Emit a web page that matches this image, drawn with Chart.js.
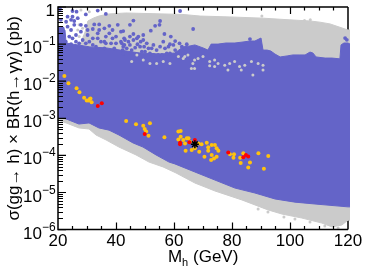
<!DOCTYPE html>
<html>
<head>
<meta charset="utf-8">
<script src="https://cdn.jsdelivr.net/npm/chart.js@4"></script>
<style>
html, body { margin: 0; padding: 0; background: #fff; }
canvas { display: block; }
</style>
</head>
<body>
<canvas id="higgsChart" width="366" height="274"></canvas>
<script>
// envelope of the scanned points, mass in GeV and sigma x BR in pb
const grayTopMass = [20, 27.6, 29.3, 30.3, 32.4, 34.1, 37.6, 43.4, 63.1, 69, 79.3, 90.7, 100, 106.9, 110.3, 113.8, 119, 120, 120.7];
const grayTopVal = [0.095, 0.095, 0.21, 0.42, 0.51, 0.57, 0.65, 0.69, 0.63, 0.57, 0.54, 0.5, 0.45, 0.42, 0.39, 0.35, 0.255, 0.24, 0.24];
const grayLowMass = [20, 22.8, 27.2, 30.7, 33.1, 36.6, 41, 46.9, 51.4, 56.2, 60.7, 67.2, 74.1, 83.4, 92.4, 97.2, 104.1, 111, 114.5, 117.9, 120, 120.7];
const grayLowVal = [9.0e-4, 7.5e-4, 5.5e-4, 5.15e-4, 3.55e-4, 2.6e-4, 1.68e-4, 1.03e-4, 6.6e-5, 4.9e-5, 3.36e-5, 1.8e-5, 1.1e-5, 6.3e-6, 3.4e-6, 2.63e-6, 2.05e-6, 1.5e-6, 1.18e-6, 1.33e-6, 1.8e-6, 1.8e-6];
const blueTopMass = [20, 21.4, 22.4, 22.8, 31, 36.6, 41.4, 48.3, 55.2, 60.3, 63.1, 65.5, 67.2, 70, 71.7, 72.8, 75.2, 77.9, 81, 83.8, 86.2, 87.9, 90, 90.7, 92.1, 93.4, 94.8, 96.6, 99, 101, 103.4, 105.2, 106.9, 107.9, 109, 112.1, 114.5, 117.2, 117.6, 118.6, 120, 120.7];
const blueTopVal = [0.289, 0.272, 0.24, 0.107, 0.084, 0.079, 0.069, 0.0575, 0.054, 0.0575, 0.084, 0.089, 0.095, 0.079, 0.069, 0.1, 0.1, 0.107, 0.107, 0.114, 0.121, 0.121, 0.146, 0.069, 0.069, 0.065, 0.054, 0.045, 0.048, 0.051, 0.051, 0.051, 0.061, 0.0575, 0.045, 0.042, 0.042, 0.04, 0.095, 0.107, 0.107, 0.1];
const blueLowMass = [20, 22.8, 27.2, 30.7, 34.1, 37.6, 41, 45.9, 49.3, 53.8, 58.3, 60.3, 67.2, 74.1, 81, 87.9, 94.8, 101.7, 108.6, 120, 120.7];
const blueLowVal = [1.08e-3, 9.6e-4, 7.0e-4, 7.5e-4, 5.5e-4, 4.8e-4, 3.55e-4, 2.16e-4, 1.68e-4, 1.03e-4, 6.6e-5, 5.9e-5, 3.57e-5, 2.17e-5, 1.32e-5, 9.7e-6, 6.7e-6, 5.5e-6, 4.9e-6, 4.1e-6, 4.1e-6];

// stray points
const blueDotMass = [20.7, 25, 26.4, 33.7, 36.5, 25, 23.3, 22.8, 24.5, 25.6, 26.8, 29.6, 21, 23.3, 25.6, 29.6, 32.5, 34.2, 37.7, 40.6, 32, 36, 38.8, 24.5, 27.9, 26.2, 30.2, 33.7, 36.5, 40, 30.8, 28.5, 34.8, 38.3, 41.7, 23.9, 22.7, 26.2, 33.1, 36, 39.4, 42.3, 46, 44.8, 42.5, 55.2, 53.5, 55, 52, 56.7, 58.9, 46, 49.4, 47.7, 42.8, 44.3, 49.4, 46, 52.9, 56.3, 60.4, 58.6, 62.7, 42, 48.3, 51.2, 54, 56.9, 60.4, 63.8, 62.1, 43.7, 46.6, 50, 55.8, 58.6, 52.9, 66.6, 86.2, 119, 119.6,
    43.1, 44.8, 47.2, 48.5, 50.6, 42.5, 44.8, 47.4, 49.7, 52.3, 55.2, 58.1, 59.8, 61.9, 64.4, 45.4, 48.9, 51.7, 54.6, 57.5, 60.9, 63.2, 42.5, 21.6, 25, 27.3, 29.6, 32, 33.7, 32, 36.5, 40, 42.9, 24.5, 21, 21.6, 34.2, 27.9, 30.2, 41.7, 37.7, 36, 38.8];
const blueDotVal = [0.88, 0.78, 0.75, 0.8, 0.65, 0.55, 0.55, 0.4, 0.45, 0.42, 0.5, 0.63, 0.45, 0.295, 0.33, 0.31, 0.34, 0.34, 0.31, 0.33, 0.255, 0.266, 0.24, 0.24, 0.216, 0.176, 0.176, 0.195, 0.16, 0.16, 0.116, 0.129, 0.116, 0.105, 0.116, 0.16, 0.116, 0.116, 0.085, 0.077, 0.077, 0.069, 0.43, 0.33, 0.225, 0.42, 0.31, 0.33, 0.23, 0.187, 0.16, 0.187, 0.176, 0.16, 0.143, 0.116, 0.129, 0.129, 0.095, 0.116, 0.121, 0.099, 0.085, 0.105, 0.085, 0.077, 0.069, 0.077, 0.069, 0.077, 0.78, 0.077, 0.08, 0.0625, 0.051, 0.056, 0.051, 0.255, 0.137, 0.145, 0.13,
    0.129, 0.16, 0.143, 0.116, 0.105, 0.085, 0.095, 0.099, 0.085, 0.077, 0.085, 0.085, 0.095, 0.105, 0.099, 0.069, 0.0625, 0.056, 0.051, 0.056, 0.056, 0.056, 0.056, 0.143, 0.143, 0.105, 0.105, 0.143, 0.143, 0.095, 0.105, 0.105, 0.095, 0.099, 0.195, 0.266, 0.24, 0.33, 0.24, 0.216, 0.195, 0.116, 0.143];
const grayDotMass = [63.7, 64.8, 67.1, 68.3, 70, 66.5, 67.1, 72.3, 74, 75.2, 74, 72.3, 77.5, 79.2, 80.9, 78.6, 82.6, 84.4, 83.2, 86.7, 89, 90.7, 87.2, 90.7, 66, 90.3, 107, 105, 27.9, 30.8, 27.3, 28.5, 26.8, 27.3, 29.1, 47.2, 49.4, 51.7, 61.5, 63.2, 45.4, 56.3, 54, 58.6, 89, 92.4, 97.9, 101.7, 106.9, 112, 116.6];
const grayDotVal = [0.046, 0.051, 0.037, 0.041, 0.046, 0.03, 0.022, 0.034, 0.037, 0.03, 0.025, 0.026, 0.027, 0.03, 0.034, 0.02, 0.025, 0.027, 0.02, 0.034, 0.03, 0.027, 0.0147, 0.02, 0.022, 0.57, 0.45, 0.43, 0.83, 0.75, 0.33, 0.266, 0.24, 0.16, 0.16, 0.051, 0.037, 0.03, 0.046, 0.041, 0.034, 0.034, 0.03, 0.03, 3.6e-6, 3e-6, 2.2e-6, 1.93e-6, 1.6e-6, 1.26e-6, 1.1e-6];

const orangeMass = [22.2, 23.6, 26.4, 27.4, 29, 30.5, 31, 31.2, 31.6, 29.9, 43.5, 46.9, 49.4, 49.9, 50.4, 51.7, 51.2, 56.7, 61.5, 62.3, 62.3, 61.5, 63.2, 64.4, 63.8, 65.5, 65, 68.4, 69.5, 71.3, 64, 66.1, 67.2, 68.7, 71.8, 73, 74.1, 74.7, 75.3, 71.8, 70.5, 73, 73.8, 72.8, 74.7, 79.3, 80.7, 80.5, 82.8, 83, 83.9, 86.2, 85.6, 89.1, 92.5, 91];
const orangeVal = [0.0138, 0.00875, 0.00645, 0.005, 0.0036, 0.003, 0.0033, 0.0034, 0.0027, 0.003, 8.45e-4, 6.9e-4, 6.3e-4, 5.15e-4, 4.4e-4, 7.3e-4, 3.4e-4, 3.07e-4, 4.4e-4, 4.55e-4, 3.2e-4, 2.7e-4, 2.6e-4, 2.9e-4, 2.1e-4, 2.35e-4, 2.9e-4, 2.1e-4, 2e-4, 2.2e-4, 1.34e-4, 1.4e-4, 1.55e-4, 1.26e-4, 1.65e-4, 1.9e-4, 1.9e-4, 1.55e-4, 1.34e-4, 1.34e-4, 9.2e-5, 1.02e-4, 8.3e-5, 7.5e-5, 9.2e-5, 1.07e-4, 1.07e-4, 8.7e-5, 8.7e-5, 6.2e-5, 1.14e-4, 6.4e-5, 4.7e-5, 1.14e-4, 9.6e-5, 4.4e-5];
const redMass = [33.7, 35.1, 49.9, 67.2, 65.3, 62.1, 62.1, 78.7, 84.8, 83.9, 85.6];
const redVal = [0.00214, 0.00253, 3.8e-4, 2.6e-4, 2.25e-4, 2.2e-4, 2.0e-4, 1.2e-4, 1.02e-4, 8.9e-5, 9.3e-5];
const starMass = [67.2];
const starVal = [2e-4];

// axes
const xLabels = [20, 40, 60, 80, 100, 120];
const xMinor = [25, 30, 35, 45, 50, 55, 65, 70, 75, 85, 90, 95, 105, 110, 115];
const yExponents = [0, -1, -2, -3, -4, -5, -6];
const yMinorFactors = [2, 3, 4, 5, 6, 7, 8, 9];

const FONT = '"Liberation Sans", Arial, sans-serif';
const GRAY = '#cbcbcb';
const BLUE = '#6464c8';

function zip(xs, ys) {
    return xs.map((x, i) => ({ x: x, y: ys[i] }));
}

function edge(xs, ys, color, fill, order) {
    return { data: zip(xs, ys), showLine: true, borderColor: color, borderWidth: 1, pointRadius: 0, backgroundColor: color, fill: fill, order: order, clip: false };
}

function dots(xs, ys, color, radius, order) {
    return { data: zip(xs, ys), showLine: false, backgroundColor: color, borderWidth: 0, pointRadius: radius, pointHoverRadius: radius, order: order };
}

const framePlugin = {
    id: 'frame',
    beforeDatasetsDraw(chart) {
        // the scan covers the right hand side of the frame
        const { ctx, chartArea, scales } = chart;
        const right = scales.x.getPixelForValue(120);
        ctx.save();
        ctx.strokeStyle = '#000';
        ctx.lineWidth = 1.5;
        ctx.beginPath();
        ctx.moveTo(right, chartArea.top);
        ctx.lineTo(right, chartArea.bottom);
        ctx.stroke();
        ctx.restore();
    },
    afterDatasetsDraw(chart) {
        const { ctx, chartArea, scales } = chart;
        const x = scales.x, y = scales.y;
        const left = x.getPixelForValue(20), right = x.getPixelForValue(120);
        const top = chartArea.top, bottom = chartArea.bottom;
        ctx.save();
        ctx.strokeStyle = '#000';
        ctx.lineWidth = 1.5;
        ctx.beginPath();
        ctx.moveTo(right, top);
        ctx.lineTo(left, top);
        ctx.lineTo(left, bottom);
        ctx.lineTo(right, bottom);
        ctx.stroke();

        ctx.lineWidth = 1.2;
        ctx.beginPath();
        const xTick = (v, len) => {
            const p = Math.round(x.getPixelForValue(v)) + 0.5;
            ctx.moveTo(p, top); ctx.lineTo(p, top + len);
            ctx.moveTo(p, bottom); ctx.lineTo(p, bottom - len);
        };
        xLabels.slice(1, -1).forEach(v => xTick(v, 7));
        xMinor.forEach(v => xTick(v, 3.5));
        yExponents.forEach(e => {
            const p = y.getPixelForValue(Math.pow(10, e));
            ctx.moveTo(left, p); ctx.lineTo(left + 8, p);
            if (e > -6) {
                yMinorFactors.forEach(f => {
                    const q = Math.round(y.getPixelForValue(f * Math.pow(10, e - 1))) + 0.5;
                    ctx.moveTo(left, q); ctx.lineTo(left + 5, q);
                });
            }
        });
        ctx.stroke();

        // y tick labels with a raised exponent
        ctx.fillStyle = '#000';
        ctx.textBaseline = 'alphabetic';
        yExponents.forEach(e => {
            const p = y.getPixelForValue(Math.pow(10, e));
            if (e === 0) {
                ctx.font = '17px ' + FONT;
                ctx.textAlign = 'right';
                ctx.fillText('1', 55, p + 9);
                return;
            }
            ctx.font = '17px ' + FONT;
            ctx.textAlign = 'right';
            ctx.fillText('10', 42, p + 9);
            ctx.font = '12px ' + FONT;
            ctx.textAlign = 'left';
            ctx.fillText(String(e).replace('-', '\u2212'), 42, p + 1);
        });

        // x title with subscript
        ctx.textAlign = 'left';
        ctx.font = '17px ' + FONT;
        ctx.fillText('M', 168, 262);
        ctx.fillText('(GeV)', 193, 262);
        ctx.font = '11px ' + FONT;
        ctx.fillText('h', 182, 266);
        ctx.restore();
    }
};

new Chart(document.getElementById('higgsChart'), {
    type: 'scatter',
    data: {
        datasets: [
            edge(grayTopMass, grayTopVal, GRAY, '+1', 8),
            edge(grayLowMass, grayLowVal, GRAY, false, 8),
            edge(blueTopMass, blueTopVal, BLUE, '+1', 7),
            edge(blueLowMass, blueLowVal, BLUE, false, 7),
            dots(grayDotMass, grayDotVal, GRAY, 1.5, 6),
            dots(blueDotMass, blueDotVal, BLUE, 1.9, 5),
            dots(orangeMass, orangeVal, '#ffc20e', 2, 4),
            dots(redMass, redVal, '#ff0000', 2, 3),
            { data: zip(starMass, starVal), showLine: false, pointStyle: 'star', pointRadius: 4, borderColor: '#000', borderWidth: 1.5, backgroundColor: '#000', order: 1 }
        ]
    },
    options: {
        responsive: false,
        animation: false,
        layout: { padding: { top: 7, right: 16, left: 0, bottom: 0 } },
        plugins: { legend: { display: false }, tooltip: { enabled: false } },
        scales: {
            x: {
                type: 'linear',
                min: 20,
                max: 120.69,
                afterFit: s => { s.height = 44.4; },
                afterBuildTicks: s => { s.ticks = xLabels.map(v => ({ value: v })); },
                grid: { display: false, drawTicks: false },
                border: { display: false },
                ticks: { color: '#000', font: { family: FONT, size: 17 }, padding: 2, maxRotation: 0, autoSkip: false, callback: v => String(v) }
            },
            y: {
                type: 'logarithmic',
                min: 1e-6,
                max: 1,
                afterFit: s => { s.width = 58; },
                grid: { display: false, drawTicks: false },
                border: { display: false },
                ticks: { display: false },
                title: { display: true, text: 'σ(gg→ h) × BR(h→γγ) (pb)', color: '#000', font: { family: FONT, size: 17 }, padding: { top: 4, bottom: 0 } }
            }
        }
    },
    plugins: [framePlugin]
});
</script>
</body>
</html>
